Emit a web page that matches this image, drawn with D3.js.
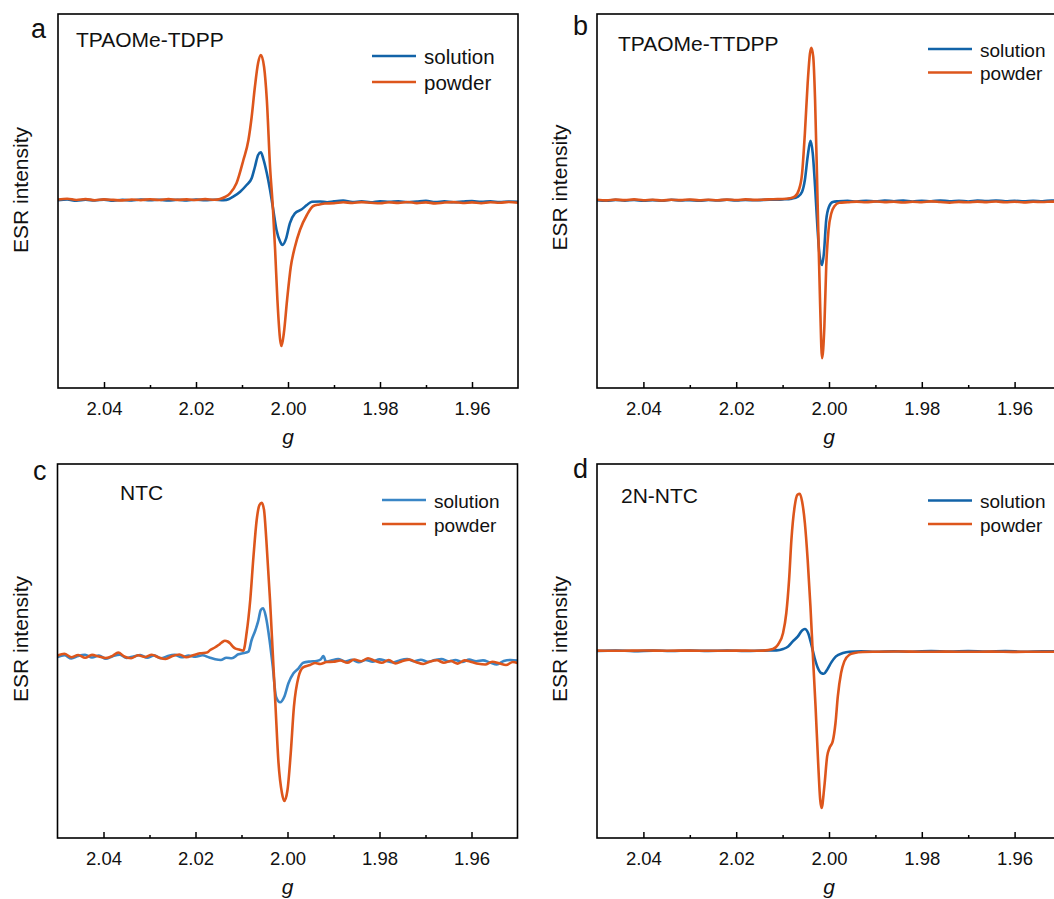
<!DOCTYPE html>
<html><head><meta charset="utf-8">
<script src="https://cdn.jsdelivr.net/npm/d3@7"></script>
<style>
html,body{margin:0;padding:0;background:#fff;}
svg{display:block;font-family:"Liberation Sans",Arial,sans-serif;}
</style></head>
<body>
<svg id="chart" width="1054" height="899"></svg>
<script>
// ---------- DATA (g-value, ESR intensity in arbitrary units) ----------
const seriesNames = ["solution", "powder"];
const panelLetters = ["a", "b", "c", "d"];
const panelTitles = ["TPAOMe-TDPP", "TPAOMe-TTDPP", "NTC", "2N-NTC"];
const majorTicks = [2.04, 2.02, 2.00, 1.98, 1.96];
const minorTicks = [2.03, 2.01, 1.99, 1.97];
const gDomain = [2.05, 1.95];
const yDomain = [-187, 187];
const xAxisTitle = "g";
const yAxisTitle = "ESR intensity";

const aSolution = [[2.050,0.8],[2.048,1.5],[2.046,0.3],[2.044,1.2],[2.042,0.5],[2.040,1.4],[2.038,0.4],[2.036,1.1],[2.034,0.6],[2.032,1.5],[2.030,0.7],[2.028,1.3],[2.026,0.5],[2.024,1.2],[2.022,0.6],[2.020,1.4],[2.018,0.8],[2.016,1.3],[2.014,0.9],[2.0128,2.0],[2.0119,4.3],[2.0104,9.3],[2.0090,16],[2.0079,22.7],[2.0072,34],[2.0065,46],[2.0059,48.7],[2.0054,42.7],[2.0046,27.7],[2.0039,11],[2.0032,-9],[2.0025,-29],[2.0017,-40.7],[2.0012,-44],[2.0004,-37.3],[1.9996,-22.3],[1.9985,-12.3],[1.9970,-8.3],[1.9959,-4],[1.9948,-0.7],[1.993,-0.5],[1.9915,-1.2],[1.990,-0.3],[1.988,0.4],[1.986,-1.0],[1.984,-0.4],[1.982,-1.3],[1.980,-0.2],[1.978,-0.9],[1.976,-0.3],[1.974,-1.2],[1.972,-0.5],[1.970,0.1],[1.968,-1.0],[1.966,-0.4],[1.964,-1.3],[1.962,-0.6],[1.960,0.0],[1.958,-0.9],[1.956,-0.3],[1.954,-1.1],[1.952,-0.5],[1.950,-0.8]];
const aPowder = [[2.050,1.5],[2.048,2.3],[2.046,1.0],[2.044,1.9],[2.042,0.8],[2.040,1.6],[2.038,1.1],[2.036,0.6],[2.034,1.5],[2.032,0.9],[2.030,1.8],[2.028,1.0],[2.026,2.0],[2.024,1.1],[2.022,1.6],[2.020,1.0],[2.018,1.9],[2.016,1.2],[2.0148,2],[2.0137,4],[2.0126,7.7],[2.0112,17.7],[2.0097,41],[2.0086,61],[2.0079,84],[2.0072,114],[2.0065,138],[2.0059,146],[2.0052,134],[2.0046,101],[2.0039,34],[2.0033,-6],[2.0028,-49],[2.0023,-99],[2.0017,-139],[2.0014,-145],[2.0009,-132],[2.0002,-99],[1.9994,-66],[1.9985,-46],[1.9974,-29],[1.9959,-14],[1.9945,-5],[1.9932,-3.5],[1.992,-2.5],[1.990,-2.2],[1.988,-1.2],[1.986,-2.0],[1.984,-1.1],[1.982,-1.7],[1.980,-2.3],[1.978,-1.3],[1.976,-1.9],[1.974,-1.0],[1.972,-2.1],[1.970,-1.4],[1.968,-2.4],[1.966,-1.5],[1.964,-1.1],[1.962,-2.0],[1.960,-1.4],[1.958,-2.2],[1.956,-1.3],[1.954,-1.8],[1.952,-1.0],[1.950,-1.7]];

const bSolution = [[2.050,0.8],[2.048,0.2],[2.046,1.1],[2.044,0.4],[2.042,1.0],[2.040,0.3],[2.038,0.9],[2.036,0.2],[2.034,1.2],[2.032,0.5],[2.030,0.9],[2.028,0.3],[2.026,1.0],[2.024,0.6],[2.022,1.2],[2.020,0.5],[2.018,1.0],[2.016,0.7],[2.014,1.1],[2.012,1.3],[2.010,1.6],[2.008,2.4],[2.0067,4.3],[2.0058,9.3],[2.0052,21],[2.0046,44.3],[2.0040,60.3],[2.0035,47.7],[2.0030,14.3],[2.0025,-25.7],[2.0020,-55.7],[2.0015,-64],[2.0011,-52.3],[2.0006,-19],[2.0000,-5.7],[1.9992,-1],[1.998,-0.3],[1.996,0.2],[1.994,-0.6],[1.992,0.3],[1.990,-0.4],[1.988,0.5],[1.986,-0.2],[1.984,0.4],[1.982,-0.5],[1.980,0.2],[1.978,-0.3],[1.976,0.5],[1.974,-0.2],[1.972,0.3],[1.970,-0.5],[1.968,0.4],[1.966,-0.1],[1.964,0.5],[1.962,-0.3],[1.960,0.2],[1.958,-0.4],[1.956,0.3],[1.954,-0.2],[1.952,0.4],[1.950,-0.1]];
const bPowder = [[2.050,1.2],[2.048,0.6],[2.046,1.4],[2.044,0.9],[2.042,1.6],[2.040,0.8],[2.038,1.3],[2.036,0.5],[2.034,1.2],[2.032,0.9],[2.030,1.5],[2.028,0.7],[2.026,1.2],[2.024,0.8],[2.022,1.4],[2.020,1.0],[2.018,1.6],[2.016,1.1],[2.014,1.4],[2.012,1.8],[2.010,2.0],[2.0085,2.7],[2.0074,4.3],[2.0065,11],[2.0058,27.7],[2.0052,67.7],[2.0046,117.7],[2.0041,147.7],[2.0038,153.3],[2.0034,144.3],[2.0030,101],[2.0026,27.7],[2.0023,-32.3],[2.0019,-105.7],[2.0015,-157.3],[2.0010,-125.7],[2.0006,-65.7],[2.0001,-29],[1.9995,-12.3],[1.9988,-5],[1.9978,-1.7],[1.996,-1.2],[1.994,-0.6],[1.992,-1.3],[1.990,-0.5],[1.988,-1.1],[1.986,-0.7],[1.984,-1.5],[1.982,-0.8],[1.980,-1.2],[1.978,-0.4],[1.976,-1.0],[1.974,-1.6],[1.972,-0.9],[1.970,-1.3],[1.968,-0.6],[1.966,-1.1],[1.964,-0.5],[1.962,-1.2],[1.960,-0.7],[1.958,-1.4],[1.956,-0.8],[1.954,-1.0],[1.952,-0.6],[1.950,-1.1]];

const cSolution = [[2.0500,-6.0],[2.0485,-4.2],[2.0470,-7.5],[2.0455,-5.0],[2.0440,-3.8],[2.0425,-6.5],[2.0410,-4.5],[2.0395,-7.8],[2.0380,-5.2],[2.0365,-3.6],[2.0350,-7.0],[2.0335,-5.5],[2.0320,-4.0],[2.0305,-6.8],[2.0290,-4.4],[2.0275,-7.3],[2.0260,-5.0],[2.0245,-3.9],[2.0230,-6.2],[2.0215,-4.6],[2.0200,-5.8],[2.0185,-4.3],[2.0170,-6.5],[2.0157,-8.3],[2.0145,-9.0],[2.0133,-6.8],[2.0121,-7.3],[2.0107,-3.3],[2.0095,-2.0],[2.0085,-0.7],[2.0078,11],[2.0071,19.3],[2.0064,29.3],[2.0058,41],[2.0053,42.7],[2.0047,34.3],[2.0039,11],[2.0032,-15.7],[2.0025,-45.7],[2.0016,-51.3],[2.0007,-45.7],[1.9998,-32.3],[1.9987,-22.3],[1.9976,-17.3],[1.9966,-11.7],[1.9950,-10.5],[1.9937,-10],[1.9928,-8.5],[1.9922,-5],[1.9916,-10.7],[1.9905,-9.5],[1.9890,-8.0],[1.9875,-10.5],[1.9860,-8.8],[1.9845,-11.2],[1.9830,-9.0],[1.9815,-10.6],[1.9800,-8.4],[1.9785,-10.0],[1.9770,-11.5],[1.9755,-9.2],[1.9740,-8.1],[1.9725,-10.3],[1.9710,-8.7],[1.9695,-10.8],[1.9680,-9.1],[1.9665,-8.0],[1.9650,-10.4],[1.9635,-9.0],[1.9620,-11.0],[1.9605,-8.6],[1.9590,-10.2],[1.9575,-9.4],[1.9560,-11.4],[1.9545,-13.5],[1.9530,-10.0],[1.9515,-9.0],[1.9500,-9.5]];
const cPowder = [[2.0500,-4.5],[2.0485,-2.8],[2.0470,-6.2],[2.0455,-4.0],[2.0440,-6.8],[2.0425,-3.9],[2.0410,-5.6],[2.0395,-7.0],[2.0380,-4.8],[2.0368,-1.5],[2.0355,-5.5],[2.0340,-7.2],[2.0325,-4.3],[2.0310,-6.0],[2.0295,-3.8],[2.0280,-6.5],[2.0265,-8.0],[2.0250,-5.0],[2.0235,-3.5],[2.0220,-6.3],[2.0205,-4.2],[2.0190,-2.3],[2.0175,-1.5],[2.0168,1],[2.0158,3.5],[2.0150,6],[2.0143,8.5],[2.0136,10.3],[2.0130,9.5],[2.0125,7.7],[2.0119,4.5],[2.0114,2.7],[2.0105,1.5],[2.0096,0.3],[2.0089,17.7],[2.0081,51],[2.0074,94.3],[2.0067,131],[2.0061,146],[2.0056,148.3],[2.0051,141],[2.0046,111],[2.0038,51],[2.0032,-2.3],[2.0026,-55.7],[2.0020,-109],[2.0012,-142.3],[2.0007,-150],[2.0000,-139],[1.9993,-102.3],[1.9986,-55.7],[1.9976,-25.7],[1.9966,-16.3],[1.9951,-14],[1.9940,-12],[1.9929,-13],[1.9915,-11],[1.9900,-10.7],[1.9885,-9.5],[1.9870,-11.8],[1.9855,-8.5],[1.9840,-10.2],[1.9825,-7.3],[1.9810,-9.8],[1.9795,-11.7],[1.9780,-9.0],[1.9765,-12.5],[1.9750,-10.0],[1.9735,-8.6],[1.9720,-11.2],[1.9705,-13.0],[1.9690,-10.5],[1.9675,-9.2],[1.9660,-11.8],[1.9645,-10.0],[1.9630,-12.6],[1.9615,-9.4],[1.9600,-11.0],[1.9585,-12.8],[1.9570,-13.5],[1.9555,-10.8],[1.9540,-12.2],[1.9525,-14.0],[1.9510,-11.0],[1.9500,-12.0]];

const dSolution = [[2.050,0.0],[2.046,0.5],[2.042,-0.1],[2.038,0.4],[2.034,0.0],[2.030,0.5],[2.026,0.1],[2.022,0.4],[2.018,0.0],[2.014,0.4],[2.0113,0.6],[2.0099,2],[2.0088,4.6],[2.0078,9.6],[2.0067,14.6],[2.0058,20.6],[2.0052,22],[2.0045,18],[2.0038,6.3],[2.0031,-7],[2.0024,-17],[2.0017,-22],[2.0011,-22.7],[2.0004,-18.7],[1.9995,-11.4],[1.9985,-5.4],[1.9970,-2],[1.9956,-0.7],[1.993,-0.3],[1.990,-0.8],[1.986,-0.2],[1.982,-0.7],[1.978,-0.1],[1.974,-0.6],[1.970,0.0],[1.966,-0.5],[1.962,-0.1],[1.958,-0.7],[1.954,-0.2],[1.950,-0.6]];
const dPowder = [[2.050,0.4],[2.045,0.2],[2.040,0.5],[2.035,0.3],[2.030,0.4],[2.025,0.2],[2.020,0.4],[2.0160,0.3],[2.0142,0.4],[2.0121,2],[2.0110,6.3],[2.0099,18],[2.0092,38],[2.0086,71.3],[2.0081,111.3],[2.0074,144.6],[2.0068,156.3],[2.0063,157.3],[2.0058,149.6],[2.0052,128],[2.0046,91.3],[2.0040,44.6],[2.0035,-2],[2.0029,-55.4],[2.0023,-115.4],[2.0019,-148.7],[2.0016,-157],[2.0010,-135.4],[2.0004,-105.4],[1.9999,-97],[1.9992,-90.4],[1.9986,-72],[1.9981,-45.4],[1.9974,-22],[1.9967,-10.4],[1.9956,-3.7],[1.9945,-2],[1.9927,-1],[1.990,-0.7],[1.985,-0.5],[1.980,-0.8],[1.975,-0.6],[1.970,-0.8],[1.965,-0.6],[1.960,-0.9],[1.955,-0.7],[1.950,-0.8]];

const solutionData = [aSolution, bSolution, cSolution, dSolution];
const powderData = [aPowder, bPowder, cPowder, dPowder];

// ---------- LAYOUT ----------
const panels = [
  {left:58,  top:14,  w:460, h:374, blue:"#1263A8", legX:372, legY:[56,82],  legFs:20.5, titleX:76,  titleY:46.7, letX:31, letY:38, ylabX:28,  ylabY:190},
  {left:597, top:14,  w:464, h:374, blue:"#1263A8", legX:928, legY:[49,72.5],legFs:19,   titleX:618, titleY:51,   letX:573, letY:35, ylabX:566.5, ylabY:187.5},
  {left:57.5,top:464, w:460, h:374, blue:"#3A86C6", legX:382, legY:[500,524],legFs:19,   titleX:120, titleY:500,  letX:33, letY:480, ylabX:28, ylabY:639},
  {left:597, top:464, w:464, h:374, blue:"#1263A8", legX:928, legY:[500.5,524],legFs:19, titleX:621, titleY:503.3,letX:573, letY:478, ylabX:566.5, ylabY:639}
];
const orange = "#DD561C";

const svg = d3.select("#chart");

panels.forEach((p, i) => {
  const x = d3.scaleLinear().domain(gDomain).range([p.left, p.left + p.w]);
  const y = d3.scaleLinear().domain(yDomain).range([p.top + p.h, p.top]);
  const g = svg.append("g");

  const clipId = "clip" + i;
  svg.append("clipPath").attr("id", clipId).append("rect")
    .attr("x", p.left).attr("y", p.top).attr("width", p.w).attr("height", p.h);

  const line = d3.line().x(d => x(d[0])).y(d => y(d[1])).curve(d3.curveMonotoneX);
  const lines = g.append("g").attr("clip-path", `url(#${clipId})`);
  lines.append("path").datum(solutionData[i]).attr("d", line)
    .attr("fill","none").attr("stroke", p.blue).attr("stroke-width", 2.6).attr("stroke-linejoin","round");
  lines.append("path").datum(powderData[i]).attr("d", line)
    .attr("fill","none").attr("stroke", orange).attr("stroke-width", 2.6).attr("stroke-linejoin","round");

  // frame
  g.append("rect").attr("x", p.left).attr("y", p.top).attr("width", p.w).attr("height", p.h)
    .attr("fill","none").attr("stroke","#000").attr("stroke-width",1.6);

  // x axis: inward major & minor ticks
  const ax = d3.axisBottom(x).tickValues(majorTicks).tickFormat(d3.format(".2f"))
    .tickSizeInner(-6).tickSizeOuter(0).tickPadding(14);
  const axG = g.append("g").attr("transform", `translate(0,${p.top + p.h})`).call(ax);
  axG.select(".domain").remove();
  axG.selectAll(".tick line").attr("stroke","#000").attr("stroke-width",1.5);
  axG.selectAll(".tick text").attr("font-size", 18.5).attr("fill","#111")
    .attr("font-family", '"Liberation Sans", Arial, sans-serif');
  const axMinor = d3.axisBottom(x).tickValues(minorTicks).tickFormat("").tickSizeInner(-3).tickSizeOuter(0);
  const axm = g.append("g").attr("transform", `translate(0,${p.top + p.h})`).call(axMinor);
  axm.select(".domain").remove();
  axm.selectAll(".tick line").attr("stroke","#000").attr("stroke-width",1.5);

  // axis titles
  g.append("text").attr("x", x(2.00)).attr("y", p.top + p.h + 56)
    .attr("text-anchor","middle").attr("font-size",21).attr("font-style","italic").attr("fill","#111")
    .text(xAxisTitle);
  g.append("text").attr("transform", `translate(${p.ylabX},${p.ylabY}) rotate(-90)`)
    .attr("text-anchor","middle").attr("font-size",21).attr("fill","#111").text(yAxisTitle);

  // panel letter and title
  g.append("text").attr("x", p.letX).attr("y", p.letY).attr("font-size",27).attr("fill","#111").text(panelLetters[i]);
  g.append("text").attr("x", p.titleX).attr("y", p.titleY).attr("font-size",21).attr("fill","#111").text(panelTitles[i]);

  // legend
  const colors = [p.blue, orange];
  seriesNames.forEach((name, k) => {
    g.append("line").attr("x1", p.legX).attr("x2", p.legX + 44)
      .attr("y1", p.legY[k]).attr("y2", p.legY[k])
      .attr("stroke", colors[k]).attr("stroke-width", 2.6);
    g.append("text").attr("x", p.legX + 52).attr("y", p.legY[k] + 7.5)
      .attr("font-size", p.legFs).attr("fill","#111").text(name);
  });
});
</script>
</body></html>
